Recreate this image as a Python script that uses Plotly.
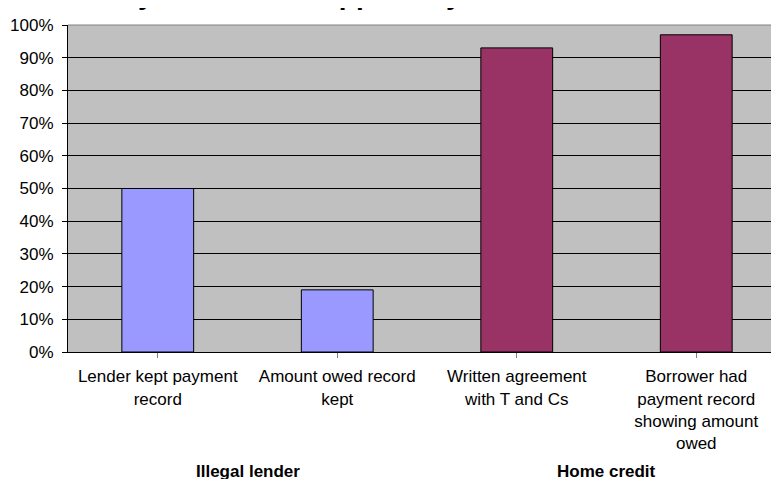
import plotly.graph_objects as go

# ---- data ----
categories = [
    "Lender kept payment<br>record",
    "Amount owed record<br>kept",
    "Written agreement<br>with T and Cs",
    "Borrower had<br>payment record<br>showing amount<br>owed",
]
values = [0.50, 0.19, 0.93, 0.97]
groups = ["Illegal lender", "Illegal lender", "Home credit", "Home credit"]
group_names = ["Illegal lender", "Home credit"]
bar_colors = ["#9999FF", "#9999FF", "#993366", "#993366"]
title_text = "Summary of records supplied by unlicensed lenders and home credit"
y_ticks = [i / 10 for i in range(11)]

FONT = "Arial, Liberation Sans, sans-serif"

fig = go.Figure()
fig.add_trace(go.Bar(
    x=list(range(len(categories))),
    y=values,
    marker=dict(color=bar_colors, line=dict(color="#000000", width=1)),
    showlegend=False,
    hoverinfo="skip",
))

annotations = []
for g in group_names:
    idx = [i for i, gg in enumerate(groups) if gg == g]
    annotations.append(dict(
        x=sum(idx) / len(idx), xref="x", y=0, yref="paper",
        yanchor="middle", yshift=-119, text="<b>%s</b>" % g, showarrow=False,
        font=dict(family=FONT, size=17, color="#000000"),
    ))
annotations.append(dict(
    x=0, xref="paper", xanchor="left", xshift=-44,
    y=1, yref="paper", yanchor="bottom", yshift=12.5,
    text="<b>%s</b>" % title_text, showarrow=False,
    font=dict(family=FONT, size=28, color="#000000"),
))

fig.update_layout(
    width=771, height=471,
    margin=dict(l=60, r=0, t=17, b=127, pad=0),
    paper_bgcolor="#FFFFFF",
    plot_bgcolor="#C0C0C0",
    bargap=0.6,
    font=dict(family=FONT, size=17, color="#000000"),
    annotations=annotations,
    shapes=[dict(type="line", xref="paper", yref="paper", x0=0, x1=1, y0=1, y1=1,
                 line=dict(color="#808080", width=1))],
    xaxis=dict(
        tickmode="array",
        tickvals=list(range(len(categories))),
        ticktext=categories,
        range=[-0.5, 3.461],
        showgrid=False, zeroline=False,
        showline=True, linecolor="#000000", linewidth=1,
        ticks="outside", ticklen=5, tickcolor="#808080",
        ticklabelstandoff=4,
        tickfont=dict(family=FONT, size=17, color="#000000"),
        fixedrange=True,
    ),
    yaxis=dict(
        range=[0, 1],
        tickvals=y_ticks,
        tickformat=".0%",
        showgrid=True, gridcolor="#000000", gridwidth=1,
        zeroline=False,
        showline=True, linecolor="#000000", linewidth=1,
        ticks="outside", ticklen=5, tickcolor="#000000",
        ticklabelstandoff=5,
        tickfont=dict(family=FONT, size=17, color="#000000"),
        fixedrange=True,
    ),
)

fig.write_html("out.html")
